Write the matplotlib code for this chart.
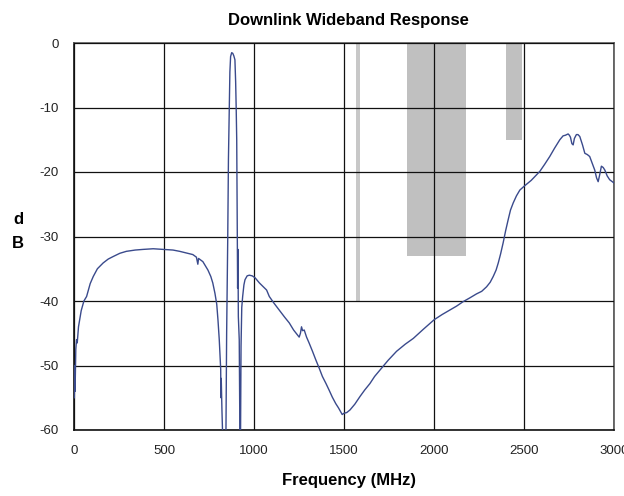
import matplotlib
matplotlib.use("Agg")
import matplotlib.pyplot as plt

# ---- data ----
freq_mhz = [2, 4, 6, 10, 14, 18, 25, 40, 55, 70, 90, 107, 130, 162, 190, 218, 255, 291, 340, 384,
            440, 500, 550, 587, 630, 660, 680, 688, 692, 716, 744, 760, 771, 783, 793, 800, 807,
            812, 815, 816, 818, 822, 826, 835, 844, 848, 854, 858, 863, 866, 870, 876, 882, 888,
            894, 898, 901, 904, 906, 907, 909, 911, 913, 915, 918, 922, 925, 928, 932, 937, 944,
            950, 962, 974, 990, 1006, 1030, 1070, 1085, 1110, 1140, 1170, 1196, 1220, 1242, 1251,
            1258, 1264, 1270, 1279, 1292, 1306, 1325, 1343, 1362, 1380, 1400, 1417, 1435, 1454,
            1470, 1482, 1490, 1500, 1515, 1533, 1560, 1589, 1615, 1644, 1670, 1700, 1745, 1792,
            1840, 1885, 1940, 2001, 2045, 2088, 2125, 2162, 2200, 2236, 2265, 2292, 2312, 2329,
            2345, 2357, 2370, 2384, 2398, 2412, 2425, 2440, 2458, 2477, 2501, 2540, 2588, 2615,
            2643, 2670, 2699, 2717, 2730, 2745, 2752, 2758, 2766, 2773, 2780, 2791, 2800, 2810,
            2825, 2838, 2852, 2865, 2880, 2893, 2903, 2912, 2920, 2930, 2940, 2949, 2962, 2976,
            3000]
response_db = [-55, -50, -54, -47.5, -46, -46.5, -44, -41.5, -40, -39.3, -37.3, -36.2, -35, -34.1,
               -33.5, -33.1, -32.6, -32.3, -32.1, -32, -31.9, -32, -32.1, -32.3, -32.6, -32.8,
               -33.2, -34.3, -33.4, -33.9, -35.2, -36.2, -37.2, -38.8, -40.5, -43, -46, -49,
               -50.6, -55, -52, -57, -61, -66, -61, -45, -30.5, -18, -9.9, -4.5, -2.1, -1.5,
               -1.6, -2.0, -2.6, -6, -10, -15, -25, -32.1, -38, -32, -42.4, -44, -46, -62, -62,
               -47, -41, -39.3, -37.5, -36.7, -36.1, -36, -36.1, -36.4, -37.2, -38.3, -39.3,
               -40.3, -41.4, -42.5, -43.4, -44.5, -45.3, -45.6, -45.0, -44.0, -44.6, -44.5,
               -45.6, -46.5, -47.8, -49.1, -50.4, -51.7, -52.8, -53.8, -54.9, -55.9, -56.6,
               -57.2, -57.6, -57.4, -57.3, -56.9, -56.0, -54.8, -53.8, -52.8, -51.7, -50.7,
               -49.2, -47.8, -46.7, -45.8, -44.4, -42.9, -42.1, -41.4, -40.8, -40.1, -39.5,
               -38.9, -38.5, -37.8, -37.1, -36.2, -35.2, -34.1, -32.7, -31.0, -29.1, -27.4,
               -25.9, -24.8, -23.7, -22.8, -22.2, -21.3, -19.9, -18.8, -17.6, -16.3, -15.0,
               -14.4, -14.3, -14.1, -14.3, -14.6, -15.6, -15.8, -14.8, -14.2, -14.2, -14.5,
               -15.8, -17.1, -17.3, -17.6, -18.7, -19.7, -20.9, -21.5, -20.5, -19.1, -19.3,
               -19.7, -20.6, -21.2, -21.7]

band_start = [1565, 1850, 2400]
band_end = [1590, 2180, 2490]
band_floor = [-40, -33, -15]
band_colors = ['#c8c8c8', '#c0c0c0', '#c0c0c0']

x_ticks = [0, 500, 1000, 1500, 2000, 2500, 3000]
y_ticks = [0, -10, -20, -30, -40, -50, -60]

# ---- figure ----
plt.rcParams['font.family'] = ['Liberation Sans', 'DejaVu Sans']
plt.rcParams['axes.unicode_minus'] = False
fig = plt.figure(figsize=(6.24, 4.96), dpi=100)
ax = fig.add_axes([74 / 624, 66 / 496, 540 / 624, 387 / 496])

for s, e, f, c in zip(band_start, band_end, band_floor, band_colors):
    ax.bar(s, 0 - f, width=e - s, bottom=f, align='edge', color=c, linewidth=0, zorder=1)

ax.plot(freq_mhz, response_db, color='#3a4a8c', linewidth=1.0, zorder=3)

ax.set_xlim(0, 3000)
ax.set_ylim(-60, 0)
ax.set_xticks(x_ticks)
ax.set_yticks(y_ticks)
ax.set_axisbelow(False)
ax.grid(True, color='#111111', linewidth=0.9, zorder=2)
ax.tick_params(length=0, labelsize=9.5, labelcolor='#222222')
ax.tick_params(axis='y', pad=11)
ax.tick_params(axis='x', pad=10.5)
for side in ['left', 'bottom']:
    ax.spines[side].set_color('#111111')
for side in ['top', 'right']:
    ax.spines[side].set_color('#555555')
for sp in ax.spines.values():
    sp.set_linewidth(1.2)

fig.text(348.5 / 624, 1 - 21 / 496, 'Downlink Wideband Response', ha='center', va='center',
         fontsize=12, fontweight='bold')
fig.text(349 / 624, 1 - 481 / 496, 'Frequency (MHz)', ha='center', va='center',
         fontsize=12, fontweight='bold')
fig.text(18 / 624, 1 - 220 / 496, 'd', ha='center', va='center', fontsize=12, fontweight='bold')
fig.text(18 / 624, 1 - 244 / 496, 'B', ha='center', va='center', fontsize=12, fontweight='bold')

fig.savefig('out.png', dpi=100)
